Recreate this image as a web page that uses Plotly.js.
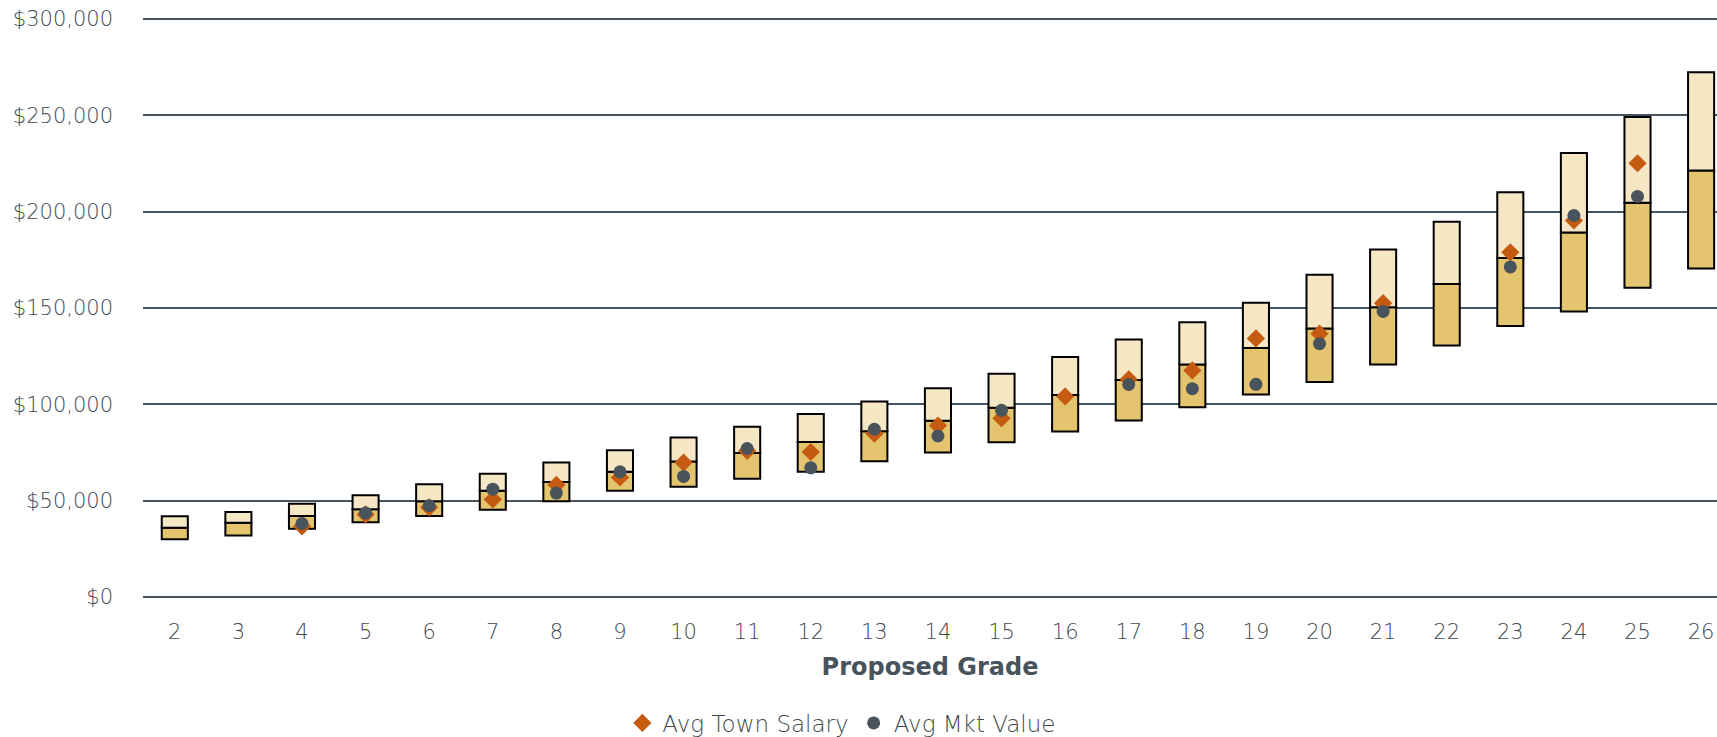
<!DOCTYPE html>
<html>
<head>
<meta charset="utf-8">
<script src="https://cdn.plot.ly/plotly-3.0.1.min.js"></script>
<style>html,body{margin:0;padding:0;background:#fff;}#chart{width:1717px;height:737px;}</style>
</head>
<body>
<div id="chart"></div>
<script>
const grades = [2,3,4,5,6,7,8,9,10,11,12,13,14,15,16,17,18,19,20,21,22,23,24,25,26];
const rangeMin = [30000,32000,35500,38800,42100,45300,49700,55200,57200,61400,65000,70500,75000,80300,85900,91600,98500,105100,111600,120700,130500,140600,148200,160500,170500];
const rangeMid = [36000,38600,42100,45600,49700,55200,59700,65000,70300,74800,80500,86000,91500,98300,104800,112600,120700,129300,139300,150400,162500,175900,189200,204600,221400];
const rangeMax = [42000,44100,48400,52900,58500,64000,69800,76200,82800,88400,95000,101500,108300,115900,124600,133700,142600,152700,167200,180400,194700,210100,230400,249100,272300];
const townGrades = [4,5,6,7,8,9,10,11,12,13,14,15,16,17,18,19,20,21,23,24,25];
const avgTownSalary = [36700,42900,46600,50700,58300,62100,69800,75900,75300,84800,89000,92800,104100,113000,117600,134200,136700,152500,178900,195400,225100];
const mktGrades = [4,5,6,7,8,9,10,11,12,13,14,15,17,18,19,20,21,23,24,25];
const avgMktValue = [38200,43700,47400,56000,54000,65000,62600,77100,67100,87100,83600,96900,110300,108100,110400,131500,148200,171300,198000,207900];
const tickLabels = grades.map(String);
const yTickVals = [0,50000,100000,150000,200000,250000,300000];
const yTickText = ['$0','$50,000','$100,000','$150,000','$200,000','$250,000','$300,000'];

const lowerSeg = rangeMid.map((m,i)=>m-rangeMin[i]);
const upperSeg = rangeMax.map((m,i)=>m-rangeMid[i]);

const font = "'DejaVu Sans',sans-serif";
const textCol = '#3e4950';
const gridCol = '#48535b';

const traces = [
  {type:'bar', x:grades, y:lowerSeg, base:rangeMin, width:0.41, showlegend:false, hoverinfo:'skip',
   marker:{color:'#e4c46e', line:{color:'#000', width:2}}},
  {type:'bar', x:grades, y:upperSeg, base:rangeMid, width:0.41, showlegend:false, hoverinfo:'skip',
   marker:{color:'#f5e6c4', line:{color:'#000', width:2}}},
  {type:'scatter', mode:'markers', name:'Avg Town Salary', x:townGrades, y:avgTownSalary,
   marker:{symbol:'diamond', size:14, color:'#c55a11'}},
  {type:'scatter', mode:'markers', name:'Avg Mkt Value', x:mktGrades, y:avgMktValue,
   marker:{symbol:'circle', size:13, color:'#48535b'}}
];

const layout = {
  width:1717, height:737,
  margin:{l:143, r:0, t:16, b:137, autoexpand:false},
  paper_bgcolor:'#fff', plot_bgcolor:'#fff',
  barmode:'overlay',
  font:{family:font, color:textCol, size:20, weight:300},
  xaxis:{range:[1.5, 26.25], tickmode:'array', tickvals:grades, ticktext:tickLabels,
    showgrid:false, zeroline:false, showline:false, ticks:'', ticklabelstandoff:17, automargin:false,
    tickfont:{family:font, size:21, color:textCol, weight:300},
    title:{text:'<b>Proposed Grade</b>', font:{family:font, size:24, color:'#48535b'}, standoff:15}},
  yaxis:{range:[-1500,301500], tickmode:'array', tickvals:yTickVals, ticktext:yTickText, automargin:false,
    showgrid:true, gridcolor:gridCol, gridwidth:2, zeroline:false, showline:false, ticks:'',
    ticklabelstandoff:29, tickfont:{family:font, size:21, color:textCol, weight:300}},
  legend:{orientation:'h', x:0.444, xanchor:'center', yref:'container', y:0.019, yanchor:'middle',
    font:{family:font, size:23, color:textCol, weight:300}, itemwidth:20, traceorder:'normal'},
  showlegend:true
};

Plotly.newPlot('chart', traces, layout, {staticPlot:true, displayModeBar:false});
</script>
</body>
</html>
